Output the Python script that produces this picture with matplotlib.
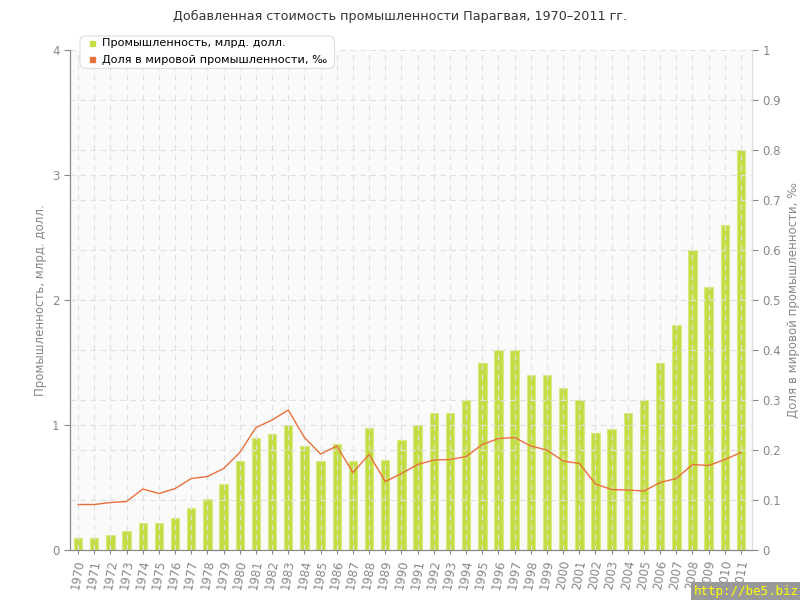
import numpy as np
from matplotlib import pyplot as plt
from matplotlib.patches import FancyBboxPatch

years = list(range(1970, 2012))
industry = [0.10, 0.10, 0.12, 0.15, 0.22, 0.22, 0.26, 0.34, 0.41, 0.53,
            0.71, 0.90, 0.93, 1.00, 0.83, 0.71, 0.85, 0.71, 0.98, 0.72,
            0.88, 1.00, 1.10, 1.10, 1.20, 1.50, 1.60, 1.60, 1.40, 1.40,
            1.30, 1.20, 0.94, 0.97, 1.10, 1.20, 1.50, 1.80, 2.40, 2.10,
            2.60, 3.20]
share = [0.091, 0.091, 0.095, 0.097, 0.122, 0.113, 0.123, 0.143, 0.147, 0.163,
         0.195, 0.245, 0.260, 0.280, 0.225, 0.192, 0.208, 0.155, 0.191, 0.137,
         0.153, 0.171, 0.180, 0.181, 0.187, 0.211, 0.223, 0.225, 0.208, 0.200,
         0.178, 0.173, 0.132, 0.121, 0.120, 0.118, 0.135, 0.143, 0.171, 0.169,
         0.181, 0.195]

green = '#c3dd45'
orange = '#e8703c'
grey = '#888888'

fig = plt.figure(figsize=(8, 6), dpi=100)
ax = fig.add_axes([0.0875, 0.0833, 0.8525, 0.8334])
ax.set_facecolor('#fafafa')
x = np.arange(len(years))

ax.bar(x, industry, width=0.52, color=green, edgecolor='#d6ea80', linewidth=0.8, zorder=2)
ax.set_xlim(-0.5, len(years) - 0.32)
ax.set_ylim(0, 4)
ax.set_yticks([0, 1, 2, 3, 4])
ax.set_xticks(x)
ax.set_xticklabels([str(y) for y in years], rotation=80, fontsize=8.5, color=grey)
ax.tick_params(axis='y', labelsize=8.5, colors=grey, length=4)
ax.tick_params(axis='x', length=3, colors=grey)
ax.set_ylabel('Промышленность, млрд. долл.', fontsize=8.5, color=grey)
ax.spines['top'].set_visible(False)
ax.spines['left'].set_color(grey)
ax.spines['bottom'].set_color(grey)
ax.spines['right'].set_color('#dddddd')

ax2 = ax.twinx()
ax2.plot(x, share, color=orange, linewidth=1, zorder=3)
ax2.set_ylim(0, 1)
ax2.set_yticks(np.round(np.arange(0, 1.01, 0.1), 1))
ax2.set_yticklabels(['0'] + [f'{v:.1f}' for v in np.arange(0.1, 0.95, 0.1)] + ['1'])
ax2.tick_params(axis='y', labelsize=8.5, colors=grey, length=4)
ax2.set_ylabel('Доля в мировой промышленности, ‰', fontsize=8.5, color=grey)
ax2.spines['top'].set_visible(False)
ax2.spines['right'].set_color('#dddddd')
ax2.spines['left'].set_color(grey)
ax2.spines['bottom'].set_color(grey)

# grid drawn over bars
for xi in x:
    ax2.axvline(xi, color='#e0e0e0', linestyle=(0, (5, 4)), linewidth=0.8, zorder=2.5)
for yv in np.arange(0.1, 1.01, 0.1):
    ax2.axhline(yv, color='#e0e0e0', linestyle=(0, (5, 4)), linewidth=0.8, zorder=2.5)
for yv in [1, 2, 3]:
    ax2.axhline(yv / 4, color='#e0e0e0', linestyle=(0, (5, 4)), linewidth=0.8, zorder=2.5)

fig.text(0.5, 0.972, 'Добавленная стоимость промышленности Парагвая, 1970–2011 гг.',
         ha='center', va='center', fontsize=9.2, color='#333333')

# legend box
box = FancyBboxPatch((0.1, 0.886), 0.318, 0.054, transform=fig.transFigure,
                     boxstyle='round,pad=0,rounding_size=0.008', facecolor='white',
                     edgecolor='#dddddd', linewidth=0.8, zorder=10)
fig.patches.append(box)
fig.patches.append(plt.Rectangle((0.112, 0.923), 0.007, 0.009, transform=fig.transFigure,
                                 color=green, zorder=11))
fig.patches.append(plt.Rectangle((0.112, 0.896), 0.007, 0.009, transform=fig.transFigure,
                                 color=orange, zorder=11))
fig.text(0.127, 0.9275, 'Промышленность, млрд. долл.', fontsize=8.1, va='center', zorder=12)
fig.text(0.127, 0.9005, 'Доля в мировой промышленности, ‰', fontsize=8.1, va='center', zorder=12)

fig.text(0.999, 0.003, 'http://be5.biz', ha='right', va='bottom', fontsize=9,
         color='#ffff00', family='DejaVu Sans Mono',
         bbox=dict(facecolor='#999999', edgecolor='none', pad=2))

fig.savefig('out.png', dpi=100)
